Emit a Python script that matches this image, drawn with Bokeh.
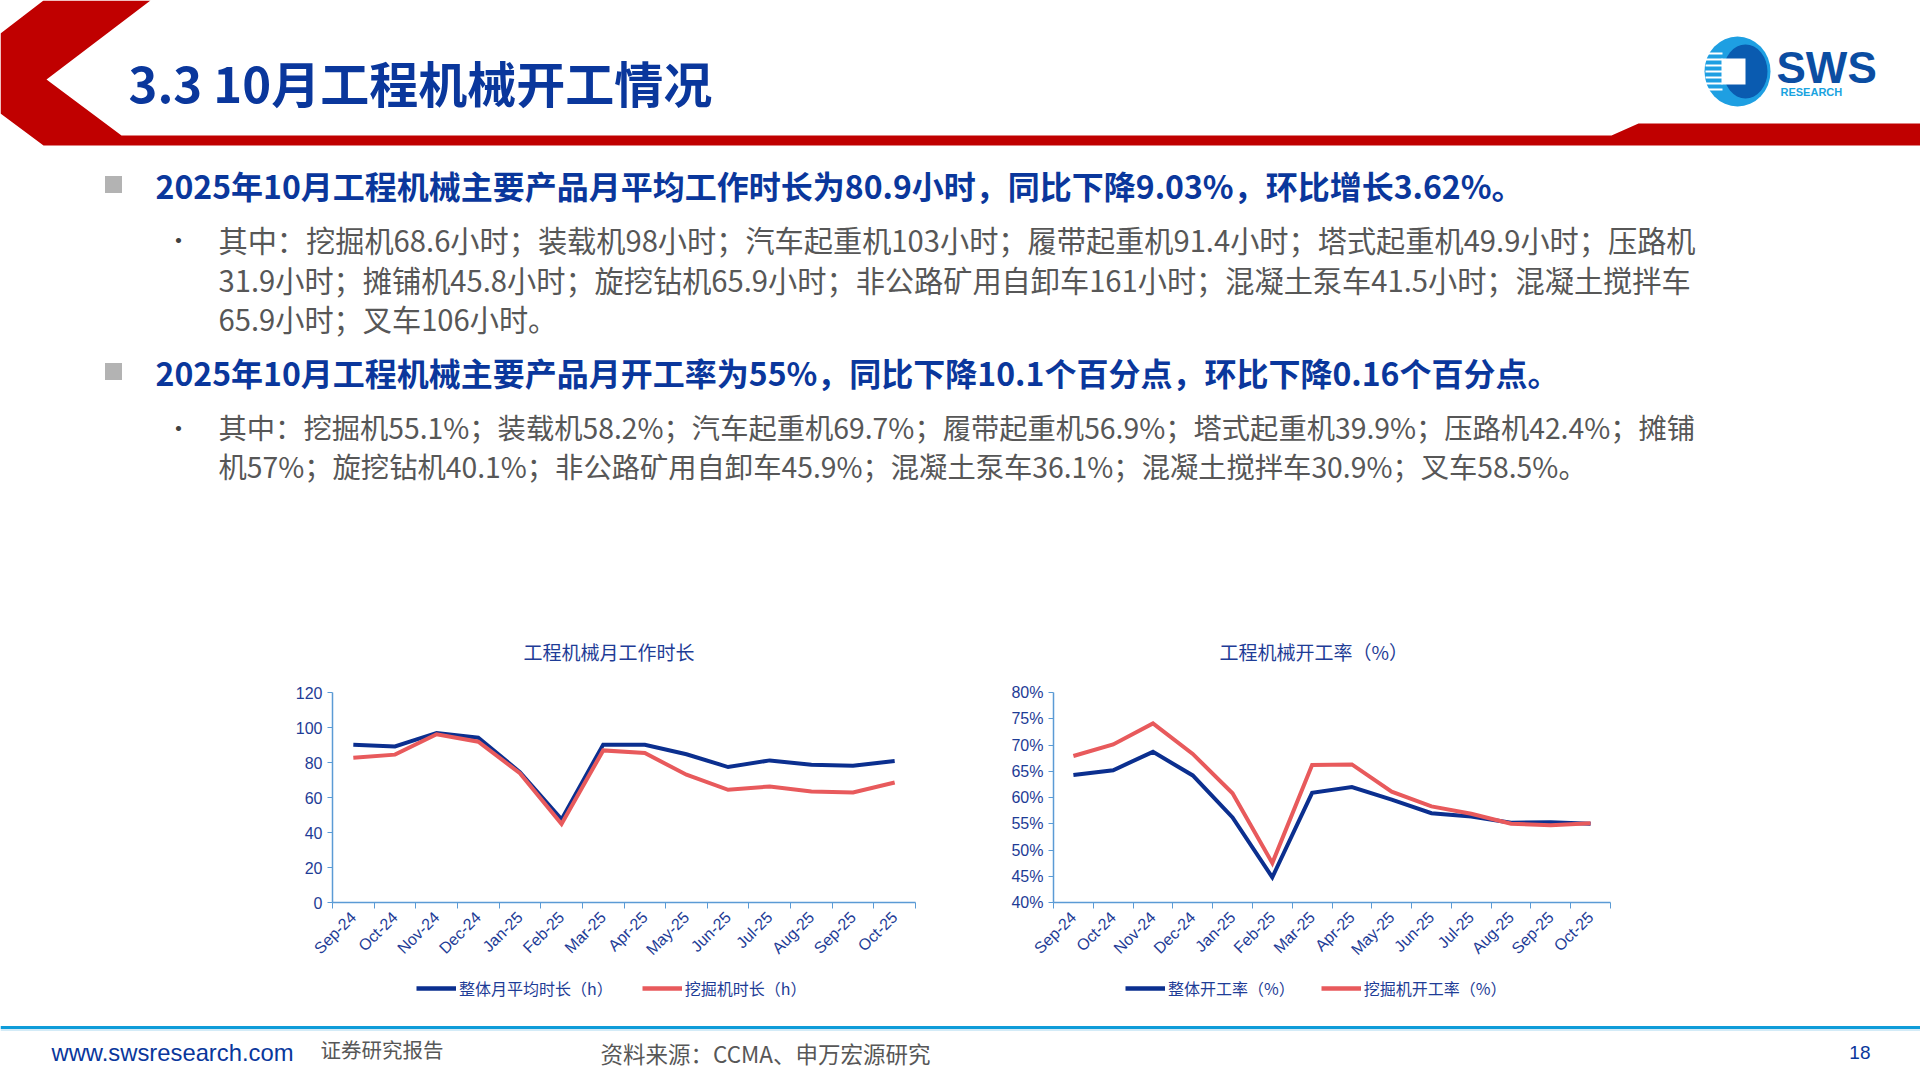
import numpy as np
from bokeh.plotting import figure
from bokeh.models import Range1d, FixedTicker, Legend, LegendItem, Spacer, PrintfTickFormatter
from bokeh.layouts import column, row
from bokeh.core.properties import value
from bokeh.embed import file_html
from bokeh.resources import INLINE

# ---------------- data ----------------
months = ["Sep-24", "Oct-24", "Nov-24", "Dec-24", "Jan-25", "Feb-25", "Mar-25",
          "Apr-25", "May-25", "Jun-25", "Jul-25", "Aug-25", "Sep-25", "Oct-25"]
hours_overall = [90.2, 89.2, 96.9, 94.2, 74.5, 47.5, 90.2, 90.1, 84.7, 77.4, 81.2, 78.7, 78.2, 80.9]
hours_excavator = [82.7, 84.5, 96.1, 91.9, 73.9, 44.9, 86.9, 85.4, 73.0, 64.4, 66.3, 63.4, 62.9, 68.6]
rate_overall = [64.3, 65.2, 68.7, 64.2, 56.2, 44.8, 60.9, 62.0, 59.6, 57.0, 56.4, 55.2, 55.3, 55.0]
rate_excavator = [67.9, 70.1, 74.1, 68.3, 60.8, 47.5, 66.2, 66.3, 61.1, 58.3, 56.9, 55.0, 54.7, 55.1]
hour_ticks = [0, 20, 40, 60, 80, 100, 120]
rate_ticks = [40, 45, 50, 55, 60, 65, 70, 75, 80]

chart1_title = "工程机械月工作时长"
chart1_series = ["整体月平均时长（h）", "挖掘机时长（h）"]
chart2_title = "工程机械开工率（%）"
chart2_series = ["整体开工率（%）", "挖掘机开工率（%）"]

slide_title = "3.3 10月工程机械开工情况"
headline1 = "2025年10月工程机械主要产品月平均工作时长为80.9小时，同比下降9.03%，环比增长3.62%。"
sub1 = ["其中：挖掘机68.6小时；装载机98小时；汽车起重机103小时；履带起重机91.4小时；塔式起重机49.9小时；压路机",
        "31.9小时；摊铺机45.8小时；旋挖钻机65.9小时；非公路矿用自卸车161小时；混凝土泵车41.5小时；混凝土搅拌车",
        "65.9小时；叉车106小时。"]
headline2 = "2025年10月工程机械主要产品月开工率为55%，同比下降10.1个百分点，环比下降0.16个百分点。"
sub2 = ["其中：挖掘机55.1%；装载机58.2%；汽车起重机69.7%；履带起重机56.9%；塔式起重机39.9%；压路机42.4%；摊铺",
        "机57%；旋挖钻机40.1%；非公路矿用自卸车45.9%；混凝土泵车36.1%；混凝土搅拌车30.9%；叉车58.5%。"]
footer_site = "www.swsresearch.com"
footer_kind = "证券研究报告"
footer_source = "资料来源：CCMA、申万宏源研究"
page_no = "18"

CJK = "Noto Sans CJK SC"
LAT = "Liberation Sans"
DARK = "#0B2F8F"
RED = "#E85A5C"
AXIS = "#5B9BD5"
LBL = "#1E3C96"
HEAD_BLUE = "#0A379C"
GRAY_TXT = "#575757"


def bare(p):
    p.xaxis.visible = False
    p.yaxis.visible = False
    p.xgrid.visible = False
    p.ygrid.visible = False
    p.outline_line_color = None
    p.min_border = 0
    p.background_fill_color = "white"
    p.border_fill_color = "white"


# ---------------- header / text (page rows 0..680) ----------------
top = figure(width=1920, height=680, x_range=Range1d(0, 1920), y_range=Range1d(680, 0),
             output_backend="svg", toolbar_location=None)
bare(top)

top.patch([43, 150, 46, 121, 1611, 1638, 1920, 1920, 43, 0, 0],
          [0, 0, 79, 135, 135, 123, 123, 145, 145, 113, 33],
          fill_color="#C00000", line_color=None)
top.text([128], [81], text=[slide_title], text_font=value(CJK), text_font_style="bold",
         text_font_size="49px", text_color=HEAD_BLUE, text_baseline="middle", text_align="left")

# logo
top.ellipse(x=1737, y=71, width=66, height=70, fill_color="#1E9FE2", line_color=None)
top.ellipse(x=1745, y=71, width=44, height=54, fill_color="#0A5BB0", line_color=None)
top.rect(x=1733, y=71, width=24, height=26, fill_color="white", line_color=None)
top.segment(x0=[1705] * 7, y0=[53, 59, 65, 71, 77, 83, 89], x1=[1722] * 7, y1=[53, 59, 65, 71, 77, 83, 89],
            line_color="white", line_width=2)
top.text([1776], [67], text=["SWS"], text_font=value(LAT), text_font_style="bold",
         text_font_size="44px", text_color="#0B4DA2", text_baseline="middle", text_align="left")
top.text([1780], [91], text=["RESEARCH"], text_font=value(LAT), text_font_style="bold",
         text_font_size="11px", text_color="#19A3E0", text_baseline="middle", text_align="left")

# bullets
for yy in (184, 371):
    top.rect(x=113, y=yy, width=17, height=17, fill_color="#B3B3B3", line_color=None)
top.text([155], [184], text=[headline1], text_font=value(CJK), text_font_style="bold",
         text_font_size="32px", text_color=HEAD_BLUE, text_baseline="middle", text_align="left")
top.text([155], [371], text=[headline2], text_font=value(CJK), text_font_style="bold",
         text_font_size="32px", text_color=HEAD_BLUE, text_baseline="middle", text_align="left")

top.text([178, 178], [238, 426], text=["•", "•"], text_font=value(CJK), text_font_size="24px",
         text_color="#404040", text_baseline="middle", text_align="center")
top.text([218] * 3, [238, 278, 317], text=sub1, text_font=value(CJK), text_font_size="29.2px",
         text_color=GRAY_TXT, text_baseline="middle", text_align="left")
top.text([218] * 2, [426, 465], text=sub2, text_font=value(CJK), text_font_size="28.3px",
         text_color=GRAY_TXT, text_baseline="middle", text_align="left")

# chart titles
top.text([523, 1219], [651, 651], text=[chart1_title, chart2_title], text_font=value(CJK),
         text_font_size="19px", text_color=LBL, text_baseline="middle", text_align="left")


# ---------------- charts (page rows 680..972) ----------------
def make_chart(s_a, s_b, yr, yticks, fmt, fw, bl, br):
    n = len(months)
    xs = np.arange(1, n + 1)
    p = figure(frame_width=fw, frame_height=210, x_range=Range1d(0.5, n + 0.5), y_range=Range1d(*yr),
               output_backend="svg", toolbar_location=None,
               min_border_left=bl, min_border_right=br, min_border_top=12, min_border_bottom=70)
    p.xgrid.visible = False
    p.ygrid.visible = False
    p.outline_line_color = None

    p.line(xs, s_a, line_color=DARK, line_width=4, line_join="miter")
    p.line(xs, s_b, line_color=RED, line_width=4, line_join="miter")

    xa = p.xaxis[0]
    xa.ticker = FixedTicker(ticks=list(xs), minor_ticks=list(np.arange(0.5, n + 1, 1.0)))
    xa.major_label_overrides = {int(i): m for i, m in zip(xs, months)}
    xa.major_label_orientation = np.pi / 4
    xa.major_tick_line_color = None
    xa.minor_tick_line_color = AXIS
    xa.minor_tick_out = 6
    xa.minor_tick_in = 0
    xa.axis_line_color = AXIS
    xa.axis_line_width = 1.5
    xa.major_label_text_font = LAT
    xa.major_label_text_font_size = "16px"
    xa.major_label_text_color = LBL
    xa.major_label_standoff = 6

    ya = p.yaxis[0]
    ya.ticker = FixedTicker(ticks=yticks)
    if fmt:
        ya.formatter = PrintfTickFormatter(format=fmt)
    ya.major_tick_line_color = AXIS
    ya.major_tick_out = 5
    ya.major_tick_in = 0
    ya.minor_tick_line_color = None
    ya.axis_line_color = AXIS
    ya.axis_line_width = 1.5
    ya.major_label_text_font = LAT
    ya.major_label_text_font_size = "16px"
    ya.major_label_text_color = LBL
    ya.major_label_standoff = 5
    return p


p1 = make_chart(hours_overall, hours_excavator, (0, 120), hour_ticks, None, 583, 72, 45)
p2 = make_chart(rate_overall, rate_excavator, (40, 80), rate_ticks, "%d%%", 557, 73, 70)

mid = row(Spacer(width=260, height=292), p1, Spacer(width=20, height=292), p2,
          Spacer(width=240, height=292))

# ---------------- legends + footer (page rows 972..1080) ----------------
bot = figure(width=1920, height=108, x_range=Range1d(0, 1920), y_range=Range1d(1080, 972),
             output_backend="svg", toolbar_location=None)
bare(bot)


def add_legend(fig, names, s_a, s_b, x_loc, spacing):
    # legend keys carry the series (drawn outside this strip's visible range; only the keys show)
    xs = np.arange(1, len(months) + 1)
    ra = fig.line(xs, s_a, line_color=DARK, line_width=4.5)
    rb = fig.line(xs, s_b, line_color=RED, line_width=4.5)
    leg = Legend(items=[LegendItem(label=names[0], renderers=[ra]),
                        LegendItem(label=names[1], renderers=[rb])],
                 orientation="horizontal", location=(x_loc, 80),
                 glyph_width=40, glyph_height=20, label_standoff=3, spacing=spacing,
                 padding=0, margin=0, border_line_color=None, background_fill_alpha=0,
                 label_text_font=CJK, label_text_font_size="16px", label_text_color=LBL,
                 label_height=20)
    fig.add_layout(leg, "center")


add_legend(bot, chart1_series, hours_overall, hours_excavator, 416, 29)
add_legend(bot, chart2_series, rate_overall, rate_excavator, 1125, 26)

bot.segment(x0=[0], y0=[1027], x1=[1920], y1=[1027], line_color="#0E9CD9", line_width=3)
bot.segment(x0=[0], y0=[1029.5], x1=[1920], y1=[1029.5], line_color="#A8D8F0", line_width=1)
bot.text([51], [1052], text=[footer_site], text_font=value(LAT), text_font_size="23.8px",
         text_color=HEAD_BLUE, text_baseline="middle", text_align="left")
bot.text([320], [1048], text=[footer_kind], text_font=value(CJK), text_font_size="20.5px",
         text_color=GRAY_TXT, text_baseline="middle", text_align="left")
bot.text([600], [1052], text=[footer_source], text_font=value(CJK), text_font_size="22.5px",
         text_color=GRAY_TXT, text_baseline="middle", text_align="left")
bot.text([1870], [1052], text=[page_no], text_font=value(LAT), text_font_size="19px",
         text_color=HEAD_BLUE, text_baseline="middle", text_align="right")

page = column(top, mid, bot)
open("out.html", "w").write(file_html(page, INLINE))
